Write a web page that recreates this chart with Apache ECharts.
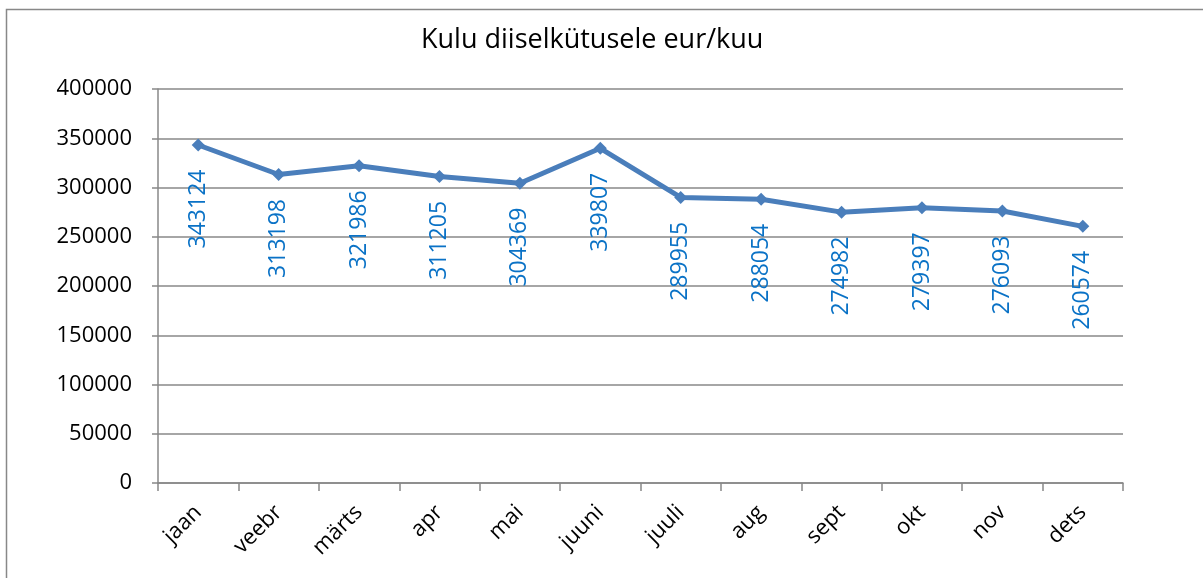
<!DOCTYPE html>
<html>
<head>
<meta charset="utf-8">
<script src="https://cdn.jsdelivr.net/npm/echarts@6/dist/echarts.min.js"></script>
<style>
  html, body { margin: 0; padding: 0; background: #fff; }
  #chart { width: 1203px; height: 578px; }
</style>
</head>
<body>
<div id="chart"></div>
<script>
// kuud ja kulud
const months = ["jaan", "veebr", "märts", "apr", "mai", "juuni", "juuli", "aug", "sept", "okt", "nov", "dets"];
const costs = [343124, 313198, 321986, 311205, 304369, 339807, 289955, 288054, 274982, 279397, 276093, 260574];
const yTicks = { min: 0, max: 400000, interval: 50000 };

const chart = echarts.init(document.getElementById("chart"));
const font = "'Open Sans', 'Liberation Sans', sans-serif";

chart.setOption({
  animation: false,
  textStyle: { fontFamily: font },
  title: {
    text: "Kulu diiselkütusele eur/kuu",
    left: 416,
    top: 22,
    textStyle: { fontFamily: font, fontSize: 27, fontWeight: "normal", color: "#000" },
  },
  graphic: [
    {
      type: "rect",
      shape: { x: 6.5, y: 9.5, width: 1400, height: 800 },
      style: { fill: "none", stroke: "#888", lineWidth: 1.5 },
      silent: true,
    },
  ],
  grid: { left: 158, right: 80, top: 89, bottom: 95 },
  xAxis: {
    type: "category",
    data: months,
    boundaryGap: true,
    axisLine: { lineStyle: { color: "#888", width: 1.5 } },
    axisTick: { show: true, length: 8, lineStyle: { color: "#888", width: 1.5 } },
    axisLabel: { rotate: 45, fontSize: 22, color: "#000", margin: 26, fontFamily: font },
  },
  yAxis: {
    type: "value",
    min: yTicks.min,
    max: yTicks.max,
    interval: yTicks.interval,
    axisLine: { show: true, lineStyle: { color: "#888", width: 1.5 } },
    axisTick: { show: true, length: 6, lineStyle: { color: "#888", width: 1.5 } },
    axisLabel: {
      fontSize: 22,
      color: "#000",
      margin: 26,
      fontFamily: font,
      formatter: (v) => String(v),
    },
    splitLine: { lineStyle: { color: "#888", width: 1.5 } },
  },
  series: [
    {
      type: "line",
      data: costs,
      symbol: "diamond",
      symbolSize: 13,
      lineStyle: { color: "#4a7ebb", width: 5 },
      itemStyle: { color: "#4a7ebb" },
      label: {
        show: true,
        position: "bottom",
        distance: 18,
        rotate: 90,
        align: "right",
        verticalAlign: "middle",
        fontSize: 23,
        color: "#0a72c6",
        fontFamily: font,
      },
    },
  ],
});
</script>
</body>
</html>
